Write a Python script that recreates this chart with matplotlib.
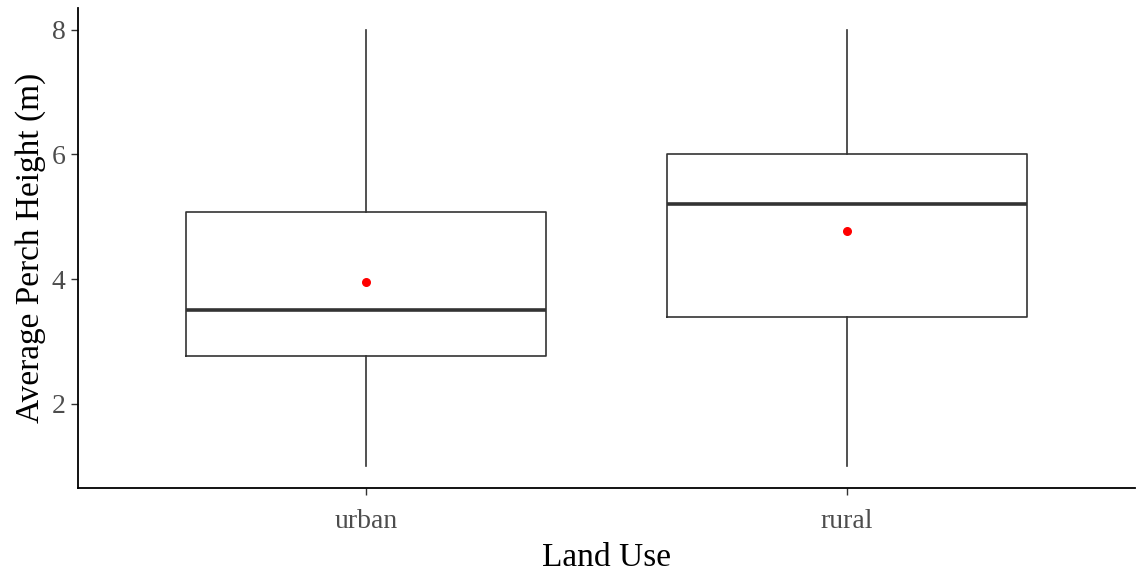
import matplotlib
matplotlib.use("Agg")
import matplotlib.pyplot as plt

categories = ["urban", "rural"]
whislo = [1.0, 1.0]
q1 = [2.76, 3.39]
med = [3.5, 5.2]
q3 = [5.08, 6.0]
whishi = [8.0, 8.0]
means = [3.95, 4.77]
yticks = [2, 4, 6, 8]

plt.rcParams['font.family'] = ['Liberation Serif', 'DejaVu Serif']

fig = plt.figure(figsize=(11.39, 5.71), dpi=100)
ax = fig.add_axes([78/1139, 1 - 488/571, (1135-78)/1139, (488-8)/571])

stats = []
for i, c in enumerate(categories):
    stats.append(dict(label=c, whislo=whislo[i], q1=q1[i], med=med[i], q3=q3[i],
                      whishi=whishi[i], fliers=[]))
pos = list(range(1, len(categories) + 1))
ax.bxp(stats, positions=pos, widths=0.75, showcaps=False, patch_artist=False,
       boxprops=dict(color='#333333', linewidth=1.2),
       whiskerprops=dict(color='#333333', linewidth=1.2),
       medianprops=dict(color='#333333', linewidth=2.6))
ax.scatter(pos, means, color='red', s=30, zorder=5)

ax.set_xlim(0.4, 2.6)
ax.set_ylim(0.65, 8.35)
ax.set_yticks(yticks)
ax.set_xticks(pos)
ax.set_xticklabels(categories)
for s in ['top', 'right']:
    ax.spines[s].set_visible(False)
for s in ['left', 'bottom']:
    ax.spines[s].set_linewidth(1.3)
    ax.spines[s].set_color('black')
ax.tick_params(axis='both', labelsize=20, colors='#333333', labelcolor='#4d4d4d', length=5, width=1)
ax.tick_params(axis='x', pad=10)
ax.tick_params(axis='y', pad=4)
ax.set_xlabel("Land Use", fontsize=24, color='black', labelpad=6)
ax.set_ylabel("Average Perch Height (m)", fontsize=24, color='black', labelpad=4)

fig.savefig("out.png", dpi=100)
